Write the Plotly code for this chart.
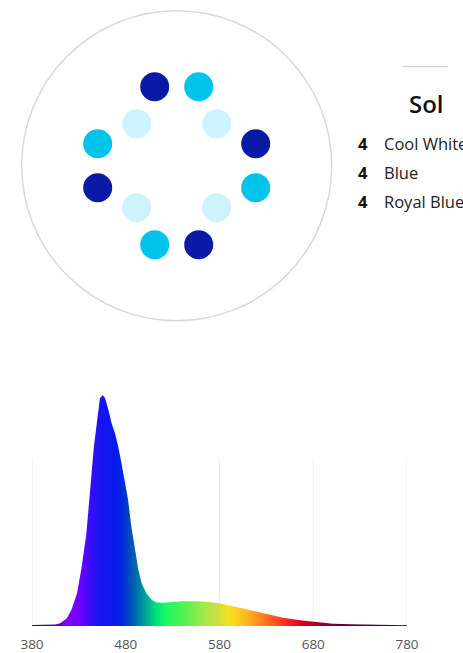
import plotly.graph_objects as go

# ---------------- data ----------------
# LED layout (units relative to fixture centre, y up)
led_x = [-22, 22, -40, 40, -79, 79, -79, 79, -40, 40, -22, 22]
led_y = [79, 79, 42, 42, 22, 22, -22, -22, -42, -42, -79, -79]
led_type = ["Royal Blue", "Blue", "Cool White", "Cool White", "Blue", "Royal Blue",
            "Royal Blue", "Blue", "Cool White", "Cool White", "Blue", "Royal Blue"]

fixture_name = "Sol"
legend_counts = [4, 4, 4]
legend_names = ["Cool White", "Blue", "Royal Blue"]

# spectrum (relative intensity)
wavelength = [380, 390, 400, 405, 410, 417, 422, 428, 433, 438, 442, 446, 450, 452.5,
              455.5, 458, 461.5, 465, 468.5, 472, 475.5, 479, 482.5, 486, 490, 493.5,
              497, 502, 508, 513, 520, 530, 541, 555, 566, 580, 595, 612, 630, 648,
              666, 684, 701, 720, 737, 760, 780]
intensity = [0.004, 0.005, 0.005, 0.006, 0.012, 0.033, 0.069, 0.141, 0.257, 0.40, 0.589,
             0.776, 0.906, 0.986, 1.0, 0.986, 0.935, 0.877, 0.834, 0.776, 0.704, 0.632,
             0.545, 0.43, 0.329, 0.242, 0.185, 0.141, 0.113, 0.102, 0.101, 0.104, 0.107,
             0.107, 0.105, 0.098, 0.084, 0.069, 0.050, 0.036, 0.025, 0.016, 0.010, 0.008,
             0.006, 0.004, 0.003]
tick_values = [380, 480, 580, 680, 780]

# ---------------- styles ----------------
W, H = 463, 653
led_colors = {"Cool White": "#cdf3fc", "Blue": "#00c3ec", "Royal Blue": "#0a1aa6"}

spec_colors = [
    (380, "#2a1060"), (405, "#5000c0"), (418, "#8400ff"), (432, "#6c00ff"),
    (442, "#3a0cf8"), (452, "#1814f2"), (468, "#0a1aee"), (476, "#0028dc"),
    (483, "#0046c0"), (492, "#0070a8"), (502, "#00a898"), (512, "#00e07c"),
    (522, "#18f864"), (545, "#60f050"), (565, "#a8e848"), (578, "#cce040"),
    (590, "#f6e020"), (605, "#ffc020"), (620, "#ff9222"), (638, "#ff5820"),
    (655, "#f81c22"), (670, "#d20024"), (690, "#900030"), (710, "#600030"),
    (780, "#500030"),
]
colorscale = [[(w - 380) / 400, c] for w, c in spec_colors]

fig = go.Figure()

# spectrum
fig.add_trace(go.Scatter(
    x=wavelength, y=intensity, mode="lines", line=dict(width=0, color="#3a1050"),
    fill="tozeroy",
    fillgradient=dict(type="horizontal", colorscale=colorscale, start=380, stop=780),
    xaxis="x", yaxis="y", hoverinfo="skip", showlegend=False,
))

# LEDs
fig.add_trace(go.Scatter(
    x=led_x, y=led_y, mode="markers",
    marker=dict(size=29, color=[led_colors[t] for t in led_type], line=dict(width=0)),
    xaxis="x2", yaxis="y2", hoverinfo="skip", showlegend=False,
))

# spectrum plot area in pixels
sx0, sx1 = 32, 407
sy_base, sy_top = 626, 395
grid_top = 0.727

shapes = []
for tv in tick_values:
    shapes.append(dict(type="line", xref="x", yref="y", x0=tv, x1=tv, y0=0, y1=grid_top,
                       line=dict(color="#ececef", width=1), layer="below"))

# fixture outline
cx_px, cy_px = 176.7, 165.8
R = 155
shapes.append(dict(type="circle", xref="x2", yref="y2", x0=-R, x1=R, y0=-R, y1=R,
                   line=dict(color="#d6d9df", width=1.5), layer="below"))
# short divider above the name
shapes.append(dict(type="line", xref="paper", yref="paper",
                   x0=403 / W, x1=448 / W, y0=1 - 66.5 / H, y1=1 - 66.5 / H,
                   line=dict(color="#d2d6de", width=1.5)))

FONT = "Open Sans"
annotations = [dict(text=fixture_name, x=426 / W, y=1 - 103 / H, xref="paper", yref="paper",
                    showarrow=False, xanchor="center", yanchor="middle",
                    font=dict(family=FONT, size=24, color="#111111", weight=600))]
row_y = [143.5, 172.5, 201.5]
for cnt, name, ry in zip(legend_counts, legend_names, row_y):
    annotations.append(dict(text=f"<b>{cnt}</b>", x=363 / W, y=1 - ry / H, xref="paper",
                            yref="paper", showarrow=False, xanchor="center", yanchor="middle",
                            font=dict(family=FONT, size=16.5, color="#111111")))
    annotations.append(dict(text=name, x=382 / W, y=1 - ry / H, xref="paper",
                            yref="paper", showarrow=False, xanchor="left", yanchor="middle",
                            font=dict(family=FONT, size=16.5, color="#222222")))

fig.update_layout(
    template="none",
    width=W, height=H, margin=dict(l=0, r=0, t=0, b=0, pad=0, autoexpand=False),
    paper_bgcolor="white", plot_bgcolor="rgba(0,0,0,0)", showlegend=False,
    xaxis=dict(domain=[sx0 / W, sx1 / W], range=[380, 780], showgrid=False, zeroline=False,
               showline=False, tickvals=tick_values, ticks="outside", ticklen=6,
               tickcolor="rgba(0,0,0,0)", automargin=False,
               tickfont=dict(family=FONT, size=13.5, color="#555555"), fixedrange=True),
    yaxis=dict(domain=[1 - sy_base / H, 1 - sy_top / H], range=[0, 1.0], visible=False,
               automargin=False, fixedrange=True),
    xaxis2=dict(domain=[0, 1], range=[-cx_px, W - cx_px], visible=False, anchor="y2",
                automargin=False, fixedrange=True),
    yaxis2=dict(domain=[0, 1], range=[cy_px - H, cy_px], visible=False, anchor="x2",
                automargin=False, fixedrange=True),
    shapes=shapes, annotations=annotations,
)

fig.write_html(
    "out.html",
    config={"displayModeBar": False, "responsive": False},
    post_script="document.documentElement.style.margin='0';document.body.style.margin='0';"
                "document.body.style.padding='0';document.body.style.overflow='hidden';",
)
